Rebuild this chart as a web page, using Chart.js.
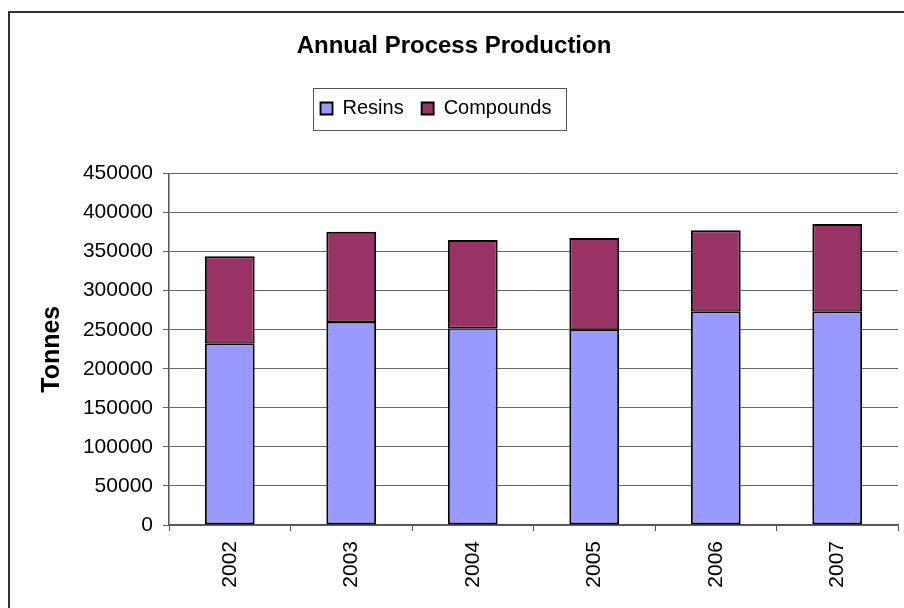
<!DOCTYPE html>
<html>
<head>
<meta charset="utf-8">
<title>Annual Process Production</title>
<script src="https://cdn.jsdelivr.net/npm/chart.js@4.4.1/dist/chart.umd.min.js"></script>
<style>
  html, body { margin: 0; padding: 0; background: #fff; overflow: hidden; }
  canvas { display: block; }
</style>
</head>
<body>
<canvas id="graficoProduccion" width="904" height="608"></canvas>
<script>
//Producción anual por proceso (toneladas), barras apiladas con Chart.js
let anios = ['2002', '2003', '2004', '2005', '2006', '2007'];
let resinas = [232000, 260000, 252000, 250000, 273000, 273000];
let compuestos = [112000, 115500, 113000, 117500, 104500, 112500];
let marcasY = [0, 50000, 100000, 150000, 200000, 250000, 300000, 350000, 400000, 450000];

Chart.defaults.font.family = '"Liberation Sans", Arial, sans-serif';
Chart.defaults.color = '#000';

//marco exterior del gráfico
let marco = {
    id: 'marco',
    beforeDraw(chart) {
        let ctx = chart.ctx;
        ctx.save();
        ctx.fillStyle = '#fff';
        ctx.fillRect(0, 0, chart.width, chart.height);
        ctx.strokeStyle = '#333';
        ctx.lineWidth = 2;
        ctx.beginPath();
        ctx.moveTo(9, chart.height);
        ctx.lineTo(9, 12);
        ctx.lineTo(chart.width, 12);
        ctx.stroke();
        ctx.restore();
    }
};

//recuadro alrededor de la leyenda (la leyenda va un poco a la izquierda)
let cajaLeyenda = {
    id: 'cajaLeyenda',
    afterLayout(chart) {
        chart.legend.left -= 18;
        chart.legend.right -= 18;
    },
    afterDraw(chart) {
        let cajas = chart.legend.legendHitBoxes;
        if (!cajas || !cajas.length) return;
        let ini = cajas[0];
        let fin = cajas[cajas.length - 1];
        let x1 = Math.round(ini.left - 8);
        let x2 = Math.round(fin.left + fin.width + 15);
        let yc = Math.round(ini.top + ini.height / 2);
        let ctx = chart.ctx;
        ctx.save();
        ctx.strokeStyle = '#555';
        ctx.lineWidth = 1;
        ctx.strokeRect(x1 + 0.5, yc - 21 + 0.5, x2 - x1, 42);
        ctx.restore();
    }
};

let borde = { top: 2, left: 2, right: 2, bottom: 2 };

let produccion = document.getElementById('graficoProduccion').getContext('2d');
let graficoProd = new Chart(produccion, {
    type: 'bar',
    data: {
        labels: anios,
        datasets: [{
            label: 'Resins',
            data: resinas,
            backgroundColor: '#9999ff',
            borderColor: '#000',
            borderWidth: { ...borde, top: 1.5 },
            borderSkipped: false,
            barPercentage: 0.41,
            categoryPercentage: 1
        },
        {
            label: 'Compounds',
            data: compuestos,
            backgroundColor: '#993366',
            borderColor: '#000',
            borderWidth: { ...borde, bottom: 1.5 },
            borderSkipped: false,
            barPercentage: 0.41,
            categoryPercentage: 1
        }]
    },
    options: {
        responsive: false,
        animation: false,
        layout: { padding: { top: 0, left: 10, right: 6, bottom: 0 } },
        plugins: {
            title: {
                display: true,
                text: 'Annual Process Production',
                font: { size: 24, weight: 'bold' },
                padding: { top: 31.6, bottom: 20.1 }
            },
            //espacio entre la leyenda y el área del gráfico
            subtitle: {
                display: true,
                text: '',
                weight: 500,
                font: { size: 10 },
                padding: { top: 33, bottom: 0 }
            },
            legend: {
                position: 'top',
                labels: {
                    boxWidth: 12,
                    boxHeight: 12,
                    padding: 18,
                    font: { size: 20 }
                }
            },
            tooltip: { enabled: false }
        },
        scales: {
            x: {
                stacked: true,
                afterFit(s) { s.height = 83; },
                grid: {
                    drawOnChartArea: false,
                    drawTicks: true,
                    tickLength: 6,
                    color: '#555'
                },
                border: { display: true, color: '#555', width: 1.5 },
                ticks: {
                    minRotation: 90,
                    maxRotation: 90,
                    padding: 10,
                    font: { size: 21 }
                }
            },
            y: {
                stacked: true,
                min: 0,
                max: 450000,
                afterFit(s) { s.width = 159; },
                afterBuildTicks(s) { s.ticks = marcasY.map(v => ({ value: v })); },
                grid: {
                    color: '#666',
                    lineWidth: 1,
                    tickLength: 6
                },
                border: { display: true, color: '#555', width: 1.5 },
                ticks: {
                    padding: 10,
                    font: { size: 21 },
                    callback: v => String(v)
                },
                title: {
                    display: true,
                    text: 'Tonnes',
                    font: { size: 25, weight: 'bold' },
                    padding: { top: 27 }
                }
            }
        }
    },
    plugins: [marco, cajaLeyenda]
});
</script>
</body>
</html>
